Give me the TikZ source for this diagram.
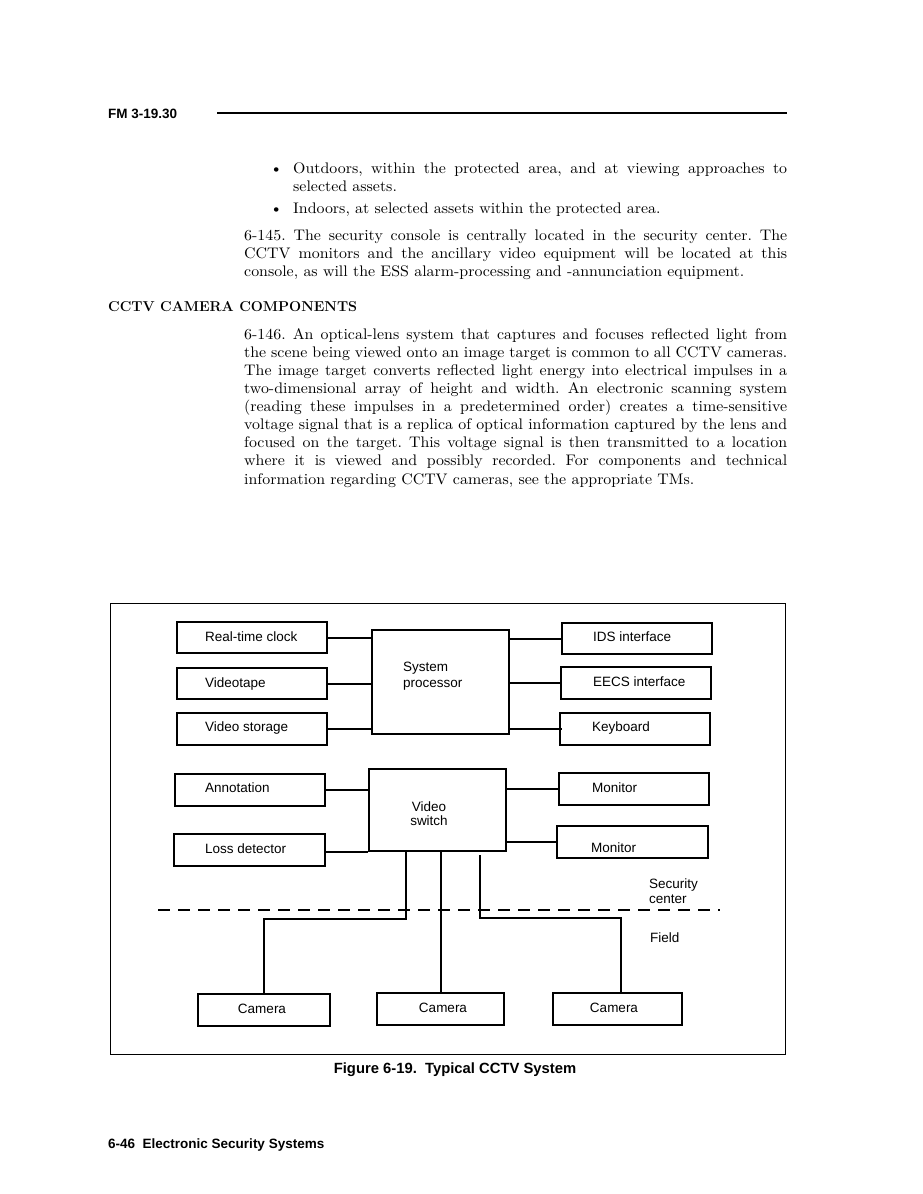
\documentclass[tikz,border=0pt]{standalone}
\usepackage{fontspec}
\newfontfamily\hv{Liberation Sans}
\newfontfamily\bodyfont{lmroman10-regular.otf}[FakeStretch=1.04]
\frenchspacing
\begin{document}
\begin{tikzpicture}[x=1pt,y=-1pt,
  body/.style={inner sep=0pt, anchor=base west, font=\bodyfont\fontsize{15.3}{18}\selectfont},
  sans/.style={inner sep=0pt, anchor=base west, font=\hv\fontsize{13.5}{15.5}\selectfont},
  bsans/.style={inner sep=0pt, anchor=base west, font=\hv\bfseries\fontsize{13.5}{15.5}\selectfont},
  blk/.style={draw, line width=2pt, inner sep=0pt, anchor=north west},
  wire/.style={line width=2pt},
  fieldline/.style={line width=2pt, dash pattern=on 12pt off 8pt}]
\fill[white] (0,0) rectangle (923,1194);
\useasboundingbox (0,0) rectangle (923,1194);

% header
\node[bsans] (hdr) at (108,118) {FM 3-19.30};
\coordinate (r1) at (217,113);
\coordinate (r2) at (787,113);
\draw[line width=2.2pt] (r1) -- (r2);

% bullets
\node[body] (b1) at (270,173) {\textbullet};
\node[body] (t1) at (293,173) {\makebox[494pt][s]{Outdoors, within the protected area, and at viewing approaches to}};
\node[body] (t2) at (293,191) {selected assets.};
\node[body] (b2) at (270,213) {\textbullet};
\node[body] (t3) at (293,213) {Indoors, at selected assets within the protected area.};

% para 6-145
\node[body] (q1) at (244,240) {\makebox[543pt][s]{6-145. The security console is centrally located in the security center. The}};
\node[body] (q2) at (244,258) {\makebox[543pt][s]{CCTV monitors and the ancillary video equipment will be located at this}};
\node[body] (q3) at (244,276) {console, as will the ESS alarm-processing and -annunciation equipment.};

% heading
\node[inner sep=0pt, anchor=base west, font=\bfseries\fontsize{14.3}{18}\selectfont] (hd) at (108,311) {CCTV CAMERA COMPONENTS};

% para 6-146
\node[body] (p1) at (244,339) {\makebox[543pt][s]{6-146. An optical-lens system that captures and focuses reflected light from}};
\node[body] (p2) at (244,357) {\makebox[543pt][s]{the scene being viewed onto an image target is common to all CCTV cameras.}};
\node[body] (p3) at (244,375) {\makebox[543pt][s]{The image target converts reflected light energy into electrical impulses in a}};
\node[body] (p4) at (244,393) {\makebox[543pt][s]{two-dimensional array of height and width. An electronic scanning system}};
\node[body] (p5) at (244,411) {\makebox[543pt][s]{(reading these impulses in a predetermined order) creates a time-sensitive}};
\node[body] (p6) at (244,429) {\makebox[543pt][s]{voltage signal that is a replica of optical information captured by the lens and}};
\node[body] (p7) at (244,447) {\makebox[543pt][s]{focused on the target. This voltage signal is then transmitted to a location}};
\node[body] (p8) at (244,465) {\makebox[543pt][s]{where it is viewed and possibly recorded. For components and technical}};
\node[body] (p9) at (244,484) {information regarding CCTV cameras, see the appropriate TMs.};

% figure frame
\node[draw, line width=1.3pt, inner sep=0pt, anchor=north west, minimum width=675pt, minimum height=451pt] (frame) at (110,603) {};

% left boxes
\node[blk, minimum width=150pt, minimum height=31pt] (rtc) at (176,621) {};
\node[blk, minimum width=150pt, minimum height=31pt] (vt) at (176,667) {};
\node[blk, minimum width=150pt, minimum height=32pt] (vs) at (176,712) {};
\node[blk, minimum width=150pt, minimum height=32pt] (ann) at (174,773) {};
\node[blk, minimum width=151pt, minimum height=32pt] (ld) at (173,833) {};
\node[sans] (lrtc) at (205,641.5) {Real-time clock};
\node[sans] (lvt) at (205,687) {Videotape};
\node[sans] (lvs) at (205,731.5) {Video storage};
\node[sans] (lann) at (205,792) {Annotation};
\node[sans] (lld) at (205,853) {Loss detector};

% central boxes
\node[blk, minimum width=137pt, minimum height=104pt] (sp) at (371,629) {};
\node[sans] (lsp1) at (403,671.5) {System};
\node[sans] (lsp2) at (403,687) {processor};
\node[blk, minimum width=137pt, minimum height=82pt] (sw) at (368,768) {};
\node[sans, anchor=base] (lsw1) at (429,811.5) {Video};
\node[sans, anchor=base] (lsw2) at (429,825.5) {switch};

% right boxes
\node[blk, minimum width=150pt, minimum height=31pt] (ids) at (561,622) {};
\node[blk, minimum width=150pt, minimum height=32pt] (eecs) at (560,666) {};
\node[blk, minimum width=150pt, minimum height=32pt] (kb) at (559,712) {};
\node[blk, minimum width=150pt, minimum height=32pt] (m1) at (558,772) {};
\node[blk, minimum width=151pt, minimum height=32pt] (m2) at (556,825) {};
\node[sans] (lids) at (593,641.5) {IDS interface};
\node[sans] (leecs) at (593,686.5) {EECS interface};
\node[sans] (lkb) at (592,731.5) {Keyboard};
\node[sans] (lm1) at (592,792) {Monitor};
\node[sans] (lm2) at (591,852) {Monitor};

% connectors to processor
\draw[wire] (rtc.east) -- (rtc.east -| sp.west);
\draw[wire] (vt.east) -- (vt.east -| sp.west);
\draw[wire] (vs.east) -- (vs.east -| sp.west);
\draw[wire] (sp.east |- ids.west) -- (ids.west);
\draw[wire] (sp.east |- eecs.west) -- (eecs.west);
\draw[wire] (sp.east |- kb.west) -- ([xshift=3pt]kb.west);
% connectors to switch
\draw[wire] (ann.east) -- (ann.east -| sw.west);
\draw[wire] ([yshift=-2pt]ld.east) -- ([yshift=-2pt]ld.east -| sw.west);
\draw[wire] (sw.east |- m1.west) -- (m1.west);
\draw[wire] (sw.east |- m2.west) -- (m2.west);

% cameras
\node[blk, minimum width=132pt, minimum height=32pt] (c1) at (197,993) {};
\node[blk, minimum width=127pt, minimum height=32pt] (c2) at (376,992) {};
\node[blk, minimum width=129pt, minimum height=32pt] (c3) at (552,992) {};
\node[sans, anchor=base] (lc1) at (262,1013) {Camera};
\node[sans, anchor=base] (lc2) at (443,1012) {Camera};
\node[sans, anchor=base] (lc3) at (614,1012) {Camera};

% zone labels and boundary
\node[sans] (lsec1) at (649,888.5) {Security};
\node[sans] (lsec2) at (649,903) {center};
\node[sans] (lfld) at (650,942) {Field};
\coordinate (d1) at (158,910);
\coordinate (d2) at (720,910);
\draw[fieldline] (d1) -- (d2);

% camera feeds
\coordinate (j1) at (406,919);
\coordinate (j3) at (480,918);
\coordinate (k3) at (621,992);
\draw[wire] (sw.south -| j1) -- (j1) -- (j1 -| c1.north) -- (c1.north);
\draw[wire] (sw.south -| c2.north) -- (c2.north);
\draw[wire] ([yshift=-3pt]sw.south -| j3) -- (j3) -- (j3 -| k3) -- (k3);

% caption and footer
\node[inner sep=0pt, anchor=base, font=\hv\bfseries\fontsize{14.8}{17}\selectfont] (cap) at (455,1073) {Figure 6-19.\ \ Typical CCTV System};
\node[bsans] (ftr) at (108,1148) {6-46\ \ Electronic Security Systems};
\end{tikzpicture}
\end{document}
